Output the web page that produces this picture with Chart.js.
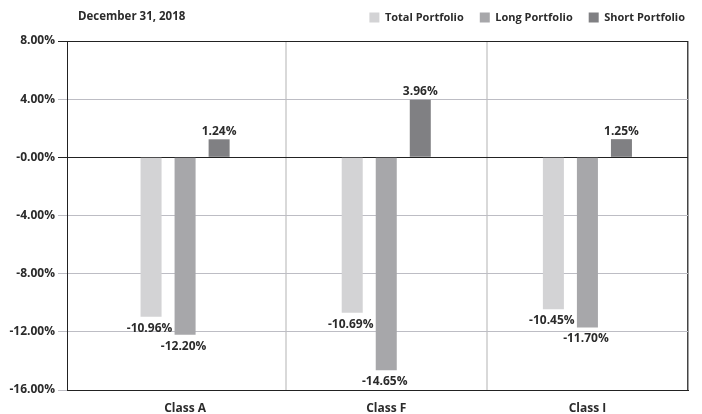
<!DOCTYPE html>
<html>
<head>
<meta charset="utf-8">
<script src="https://cdn.jsdelivr.net/npm/chart.js@4"></script>
<style>
    html, body { margin: 0; padding: 0; background: #fff; }
    #wrap { position: relative; width: 702px; height: 414px; }
    #asof {
        position: absolute; left: 78px; top: 8px;
        font: bold 11.5px "Open Sans", sans-serif; color: #2b2b2b;
    }
</style>
</head>
<body>
<div id="wrap">
    <canvas id="chart" width="702" height="414"></canvas>
    <div id="asof">December 31, 2018</div>
</div>
<script>
// Данные графика
const categories = ['Class A', 'Class F', 'Class I'];
const seriesNames = ['Total Portfolio', 'Long Portfolio', 'Short Portfolio'];
const totalPortfolio = [-10.96, -10.69, -10.45];
const longPortfolio = [-12.20, -14.65, -11.70];
const shortPortfolio = [1.24, 3.96, 1.25];
const yTickValues = [8, 4, 0, -4, -8, -12, -16];
const yTickLabels = ['8.00%', '4.00%', '-0.00%', '-4.00%', '-8.00%', '-12.00%', '-16.00%'];

const SERIES_COLORS = ['#d3d3d5', '#a7a7aa', '#808083'];
const TEXT_COLOR = '#2b2b2b';

Chart.defaults.font.family = '"Open Sans", sans-serif';
Chart.defaults.font.weight = 'bold';
Chart.defaults.font.size = 12;
Chart.defaults.color = TEXT_COLOR;

// точки для линейной оси x
function toPoints(values) {
    return values.map((v, i) => ({ x: i, y: v }));
}

// подписи значений над/под столбиками
const valueLabels = {
    id: 'valueLabels',
    afterDatasetsDraw(chart) {
        const ctx = chart.ctx;
        ctx.save();
        ctx.font = 'bold 12px "Open Sans", sans-serif';
        ctx.fillStyle = TEXT_COLOR;
        ctx.textAlign = 'center';
        chart.data.datasets.forEach((ds, di) => {
            const meta = chart.getDatasetMeta(di);
            meta.data.forEach((bar, i) => {
                const v = ds.data[i].y;
                const text = v.toFixed(2) + '%';
                if (v >= 0) {
                    ctx.textBaseline = 'bottom';
                    ctx.fillText(text, bar.x, bar.y - 2);
                } else {
                    ctx.textBaseline = 'top';
                    ctx.fillText(text, bar.x - 1.5, bar.y + 5.5);
                }
            });
        });
        ctx.restore();
    }
};

// легенда чуть выше и правее, как в оригинале
const legendShift = {
    id: 'legendShift',
    afterLayout(chart) {
        const lg = chart.legend;
        if (!lg) return;
        lg.left += 13; lg.right += 13;
        lg.top -= 8; lg.bottom -= 8;
    }
};

const chart = new Chart(document.getElementById('chart'), {
    type: 'bar',
    data: {
        datasets: [
            { label: seriesNames[0], data: toPoints(totalPortfolio), backgroundColor: SERIES_COLORS[0] },
            { label: seriesNames[1], data: toPoints(longPortfolio), backgroundColor: SERIES_COLORS[1] },
            { label: seriesNames[2], data: toPoints(shortPortfolio), backgroundColor: SERIES_COLORS[2] }
        ]
    },
    options: {
        responsive: false,
        animation: false,
        categoryPercentage: 0.5075,
        barPercentage: 0.6176,
        layout: { padding: { left: 0, right: 14, top: 4, bottom: 0 } },
        plugins: {
            legend: {
                position: 'top',
                align: 'end',
                labels: {
                    boxWidth: 10,
                    boxHeight: 10,
                    padding: 16,
                    font: { size: 11, weight: 'bold' },
                    color: TEXT_COLOR
                }
            },
            tooltip: { enabled: false }
        },
        scales: {
            x: {
                type: 'linear',
                offset: false,
                min: -0.587,
                max: 2.5,
                afterBuildTicks: axis => { axis.ticks = categories.map((c, i) => ({ value: i })); },
                afterFit: axis => { axis.height = 24; },
                ticks: {
                    autoSkip: false,
                    maxRotation: 0,
                    padding: 11,
                    callback: (value, index) => categories[index]
                },
                grid: {
                    offset: true,
                    drawTicks: false,
                    color: c => c.type === 'scale' ? '#444' : (c.index === 0 ? 'rgba(0,0,0,0)' : '#d9d9d9'),
                    lineWidth: c => c.type === 'scale' ? 1.5 : 2
                },
                border: { color: '#222', width: 1 }
            },
            y: {
                min: -16,
                max: 8,
                afterFit: axis => { axis.width = 67; },
                ticks: {
                    stepSize: 4,
                    padding: 3,
                    callback: value => yTickLabels[yTickValues.indexOf(value)]
                },
                grid: {
                    tickLength: 9,
                    color: c => (c.tick && (c.tick.value === 0 || c.tick.value === 8)) ? '#222' : '#bdbdc4'
                },
                border: { color: '#222', width: 1 }
            }
        }
    },
    plugins: [valueLabels, legendShift]
});
</script>
</body>
</html>
